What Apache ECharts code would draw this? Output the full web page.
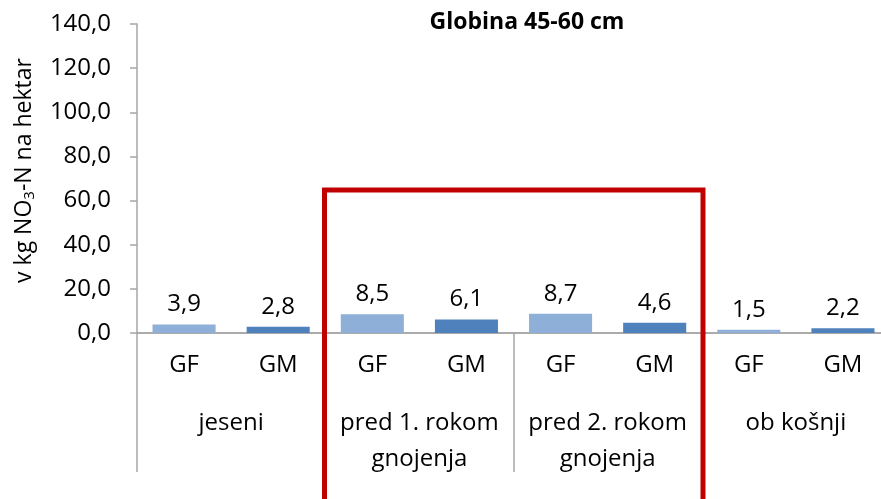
<!DOCTYPE html>
<html>
<head>
<meta charset="utf-8">
<script src="https://cdn.jsdelivr.net/npm/echarts@6/dist/echarts.min.js"></script>
<style>
  html, body { margin: 0; padding: 0; background: #fff; }
  #main { width: 881px; height: 499px; }
</style>
</head>
<body>
<div id="main"></div>
<script>
// data
const groups = ['jeseni', 'pred 1. rokom\ngnojenja', 'pred 2. rokom\ngnojenja', 'ob košnji'];
const variants = ['GF', 'GM'];
const gfValues = [3.9, 8.5, 8.7, 1.5];
const gmValues = [2.8, 6.1, 4.6, 2.2];
const yTicks = [0, 20, 40, 60, 80, 100, 120, 140];

const colors = { GF: '#8EB0D8', GM: '#4F81BD' };
const font = '"Open Sans", "Liberation Sans", sans-serif';

// interleave GF/GM per group
const cats = [];
const vals = [];
groups.forEach((g, i) => {
  cats.push(variants[0]);
  vals.push({ value: gfValues[i], itemStyle: { color: colors.GF } });
  cats.push(variants[1]);
  vals.push({ value: gmValues[i], itemStyle: { color: colors.GM } });
});

const fmt = v => v.toFixed(1).replace('.', ',');

const chart = echarts.init(document.getElementById('main'));
chart.setOption({
  animation: false,
  title: {
    text: 'Globina 45-60 cm',
    left: 522,
    top: 6,
    textAlign: 'center',
    textStyle: { fontFamily: font, fontSize: 23, fontWeight: 'bold', color: '#000' }
  },
  grid: { left: 137, right: -9, top: 24, bottom: 166, outerBoundsMode: 'none', containLabel: false },
  xAxis: [{
    type: 'category',
    data: cats,
    axisLine: { lineStyle: { color: '#A6A6A6', width: 1.5 } },
    axisTick: { length: 54, interval: 0, lineStyle: { color: '#A6A6A6', width: 1.5 } },
    axisLabel: { interval: 0, margin: 20, fontFamily: font, fontSize: 24, color: '#000' }
  }, {
    type: 'category',
    data: groups,
    position: 'bottom',
    axisLine: { show: true, lineStyle: { color: '#A6A6A6', width: 1.5 } },
    axisTick: { show: true, interval: 0, length: 139, lineStyle: { color: '#A6A6A6', width: 1.5 } },
    axisLabel: { interval: 0, margin: 72, fontFamily: font, fontSize: 24, color: '#000', lineHeight: 36, verticalAlign: 'top' }
  }],
  yAxis: {
    type: 'value',
    min: yTicks[0],
    max: yTicks[yTicks.length - 1],
    interval: 20,
    splitLine: { show: false },
    axisLine: { show: true, lineStyle: { color: '#A6A6A6', width: 1.5 } },
    axisTick: { show: true, length: 7, lineStyle: { color: '#A6A6A6', width: 1.5 } },
    axisLabel: { margin: 26, fontFamily: font, fontSize: 24, color: '#000', formatter: fmt },
    name: 'v kg NO{sub|3}-N na hektar',
    nameLocation: 'middle',
    nameGap: 100,
    nameTextStyle: {
      fontFamily: font, fontSize: 23, color: '#000', padding: [0, 0, 0, 16],
      rich: { sub: { fontFamily: font, fontSize: 15, color: '#000', padding: [10, 0, 0, 0] } }
    }
  },
  series: [{
    type: 'bar',
    data: vals,
    barWidth: '67%',
    label: {
      show: true,
      position: 'top',
      distance: 8,
      fontFamily: font,
      fontSize: 24,
      color: '#000',
      formatter: p => fmt(p.value)
    }
  }],
  graphic: [{
    type: 'rect',
    shape: { x: 324.5, y: 190, width: 378.5, height: 330 },
    style: { fill: 'none', stroke: '#C00000', lineWidth: 5 },
    z: 100
  }]
});
</script>
</body>
</html>
